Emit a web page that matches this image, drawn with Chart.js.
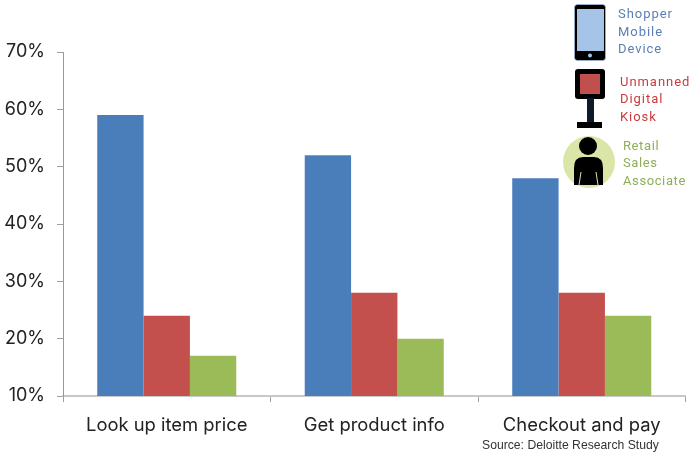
<!DOCTYPE html>
<html><head><meta charset="utf-8">
<script src="https://cdn.jsdelivr.net/npm/chart.js@4"></script>
<style>
html,body{margin:0;padding:0;background:#fff;overflow:hidden}
#wrap{position:relative;width:691px;height:454px}
canvas{position:absolute;left:0;top:0}
.t{position:absolute;font:13px/17.5px Roboto,sans-serif;letter-spacing:.95px;white-space:pre}
svg{position:absolute;left:0;top:0;pointer-events:none}
#src{position:absolute;left:482px;top:438px;font:12.2px/14px "Liberation Sans",sans-serif;color:#333;white-space:pre}
</style></head><body>
<div id="wrap">
<canvas id="c" width="691" height="454" style="width:691px;height:454px"></canvas>
<svg width="691" height="454" viewBox="0 0 691 454">
  <rect x="574.5" y="4.5" width="31" height="56" rx="3" fill="#000" stroke="#a6c3e8" stroke-width="0.7"/>
  <rect x="577" y="9" width="27" height="42" fill="#a6c3e8"/>
  <circle cx="590" cy="55.5" r="2" fill="#a6c3e8"/>
  <rect x="575" y="69" width="30" height="30" rx="3" fill="#000"/>
  <rect x="580" y="74" width="20" height="20" fill="#c0504d"/>
  <rect x="587" y="98" width="7" height="26" fill="#0c1a2a"/>
  <rect x="577" y="122" width="25" height="6" fill="#000"/>
  <circle cx="589" cy="162" r="26" fill="#d9e6a8"/>
  <circle cx="588" cy="146" r="9" fill="#000"/>
  <path d="M574 185 V168 Q574 157 583 157 H594 Q603 157 603 168 V185 Z" fill="#000"/>
  <path d="M581 172 L579 185 M596 172 L598 185" stroke="#d9e6a8" stroke-width="1" fill="none"/>
</svg>
<div class="t" style="left:618px;top:5px;color:#5b7fb3">Shopper
Mobile
Device</div>
<div class="t" style="left:620px;top:72.5px;color:#cc3b3b">Unmanned
Digital
Kiosk</div>
<div class="t" style="left:623px;top:136.5px;color:#8fae5a;letter-spacing:.6px">Retail
Sales
Associate</div>
<div id="src">Source: Deloitte Research Study</div>
</div>
<script>
const categories = ["Look up item price", "Get product info", "Checkout and pay"];
const shopperMobileDevice = [59, 52, 48];
const unmannedDigitalKiosk = [24, 28, 28];
const retailSalesAssociate = [17, 20, 24];
const xFont = {family: "Inter, sans-serif", size: 18.4, weight: 400};
const yFont = {family: "Inter, sans-serif", size: 18, weight: 400};

new Chart(document.getElementById("c"), {
  type: "bar",
  data: {
    labels: categories,
    datasets: [
      {label: "Shopper Mobile Device", data: shopperMobileDevice, backgroundColor: "#4a7ebb"},
      {label: "Unmanned Digital Kiosk", data: unmannedDigitalKiosk, backgroundColor: "#c4504d"},
      {label: "Retail Sales Associate", data: retailSalesAssociate, backgroundColor: "#9bbb59"}
    ]
  },
  options: {
    responsive: false,
    animation: false,
    devicePixelRatio: 1,
    layout: {padding: {left: 0, right: 5.5, top: 52, bottom: 0}},
    plugins: {legend: {display: false}, tooltip: {enabled: false}},
    datasets: {bar: {categoryPercentage: 0.67, barPercentage: 1}},
    scales: {
      x: {
        offset: true,
        grid: {offset: true, display: true, drawOnChartArea: false, drawTicks: true, tickLength: 6, color: "#a0a0a0"},
        border: {color: "#c8c8c8", width: 2},
        ticks: {color: "#222", font: xFont, padding: 12, maxRotation: 0},
        afterFit(s) { s.height = 58; }
      },
      y: {
        min: 10, max: 70,
        grid: {display: true, drawOnChartArea: false, drawTicks: true, tickLength: 6, color: "#a0a0a0"},
        border: {color: "#999", width: 1},
        ticks: {stepSize: 10, color: "#222", font: yFont, padding: 12, callback: v => v + "%"},
        afterFit(s) { s.width = 63; }
      }
    }
  }
});
</script>
</body></html>
